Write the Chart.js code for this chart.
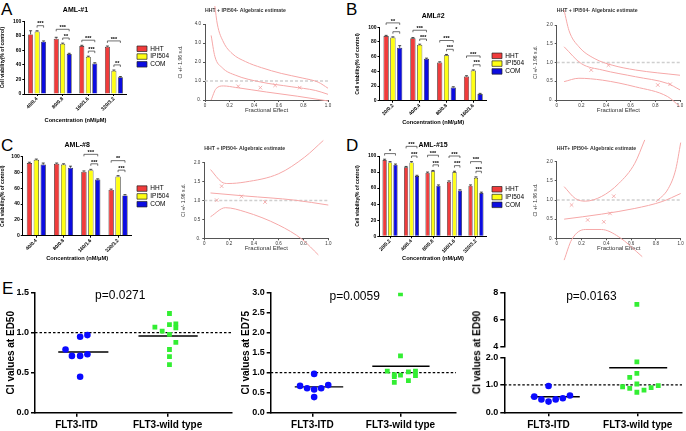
<!DOCTYPE html>
<html>
<head>
<meta charset="utf-8">
<script src="https://cdn.jsdelivr.net/npm/chart.js@4.4.1/dist/chart.umd.min.js"></script>
<style>
    html, body { margin: 0; padding: 0; background: #fff; }
    body { width: 686px; height: 431px; position: relative; overflow: hidden; font-family: 'Liberation Sans', Arial, sans-serif; }
    canvas { position: absolute; }
    .letter { position: absolute; font-size: 17px; color: #000; line-height: 1; }
    .ytitle { position: absolute; font-size: 10px; font-weight: bold; white-space: nowrap; transform: rotate(-90deg); transform-origin: center; }
</style>
</head>
<body>
<div class="letter" style="left:1px;top:1px">A</div>
<div class="letter" style="left:346px;top:1px">B</div>
<div class="letter" style="left:1px;top:137px">C</div>
<div class="letter" style="left:346px;top:137px">D</div>
<div class="letter" style="left:2px;top:280px">E</div>

<canvas id="barA" width="186" height="124" style="left:0;top:0"></canvas>
<canvas id="ciA" width="163" height="130" style="left:177px;top:0"></canvas>
<canvas id="barB" width="186" height="126" style="left:355px;top:0"></canvas>
<canvas id="ciB" width="154" height="130" style="left:532px;top:0"></canvas>
<canvas id="barC" width="186" height="124" style="left:0;top:138px"></canvas>
<canvas id="ciC" width="160" height="130" style="left:180px;top:138px"></canvas>
<canvas id="barD" width="186" height="124" style="left:355px;top:138px"></canvas>
<canvas id="ciD" width="154" height="130" style="left:532px;top:138px"></canvas>
<canvas id="ed50" width="236" height="151" style="left:0;top:280px"></canvas>
<canvas id="ed75" width="230" height="151" style="left:230px;top:280px"></canvas>
<canvas id="ed90top" width="231" height="72" style="left:455px;top:282px"></canvas>
<canvas id="ed90" width="231" height="81" style="left:455px;top:350px"></canvas>
<div class="ytitle" style="left:435px;top:347px">CI values at ED90</div>

<script>
// ---- bar charts (cell viability, % of control) ----
const concA = ['40/0.4', '80/0.8', '160/1.6', '320/3.2'];
const hhtA = [82, 76, 66, 65];
const ipiA = [86, 69, 51, 32];
const comA = [72, 55, 42, 23];
const errA = [[5, 2, 1, 1], [1, 1, 1, 1], [1, 1, 1, 1]];

const concB = ['20/0.2', '40/0.4', '80/0.8', '160/1.6'];
const hhtB = [88, 85, 52, 33];
const ipiB = [86, 76, 62, 41];
const comB = [72, 57, 18, 9];
const errB = [[1, 1, 1, 1], [1, 1, 1, 1], [3, 1, 1, 1]];

const concC = ['40/0.4', '80/0.8', '160/1.6', '320/3.2'];
const hhtC = [92, 91, 81, 58];
const ipiC = [96, 90, 83, 75];
const comC = [90, 86, 71, 51];
const errC = [[1, 1, 1, 1], [1, 1, 1, 1], [2, 2, 1, 1]];

const concD = ['20/0.2', '40/0.4', '80/0.8', '160/1.6', '320/3.2'];
const hhtD = [95, 86, 79, 68, 63];
const ipiD = [92, 92, 81, 80, 73];
const comD = [89, 75, 63, 57, 54];
const errD = [[1, 1, 1, 1, 1], [1, 1, 1, 1, 1], [1, 1, 1, 1, 1]];

// significance brackets: [category, from series, to series, stars]
const sigA = [[0, 1, 2, '***'], [1, 0, 2, '***'], [1, 1, 2, '**'], [2, 0, 2, '***'], [2, 1, 2, '***'], [3, 0, 2, '***'], [3, 1, 2, '**']];
const sigB = [[0, 0, 2, '**'], [0, 1, 2, '*'], [1, 0, 2, '***'], [1, 1, 2, '***'], [2, 0, 2, '***'], [2, 1, 2, '***'], [3, 0, 2, '***'], [3, 1, 2, '***']];
const sigC = [[2, 0, 2, '***'], [2, 1, 2, '***'], [3, 0, 2, '**'], [3, 1, 2, '***']];
const sigD = [[0, 0, 2, '*'], [1, 0, 2, '***'], [1, 1, 2, '***'], [2, 0, 2, '***'], [2, 1, 2, '***'], [3, 0, 2, '***'], [3, 1, 2, '***'], [4, 0, 2, '***'], [4, 1, 2, '***']];

// ---- CI plots (fractional effect vs CI +/- 1.96 s.d.) ----
const ciRef = [{x: 0, y: 1}, {x: 1, y: 1}];
const ciA1 = [{x: 0.08, y: 4.95}, {x: 0.1, y: 4.0}, {x: 0.15, y: 3.05}, {x: 0.22, y: 2.45}, {x: 0.33, y: 2.02}, {x: 0.46, y: 1.7}, {x: 0.62, y: 1.4}, {x: 0.79, y: 1.16}, {x: 0.92, y: 0.94}, {x: 1.0, y: 0.62}];
const ciA2 = [{x: 0.05, y: 3.4}, {x: 0.08, y: 2.3}, {x: 0.14, y: 1.7}, {x: 0.25, y: 1.3}, {x: 0.45, y: 0.95}, {x: 0.7, y: 0.7}, {x: 0.9, y: 0.5}, {x: 1.0, y: 0.3}];
const ciA3 = [{x: 0.05, y: 0}, {x: 0.09, y: 0.6}, {x: 0.15, y: 0.74}, {x: 0.25, y: 0.66}, {x: 0.5, y: 0.42}, {x: 0.75, y: 0.2}, {x: 1.0, y: -0.05}];
const ciAmarks = [{x: 0.27, y: 0.72}, {x: 0.45, y: 0.65}, {x: 0.57, y: 0.77}, {x: 0.77, y: 0.65}];

const ciB1 = [{x: 0.06, y: 2.4}, {x: 0.1, y: 1.85}, {x: 0.18, y: 1.42}, {x: 0.31, y: 1.1}, {x: 0.45, y: 0.93}, {x: 0.64, y: 0.8}, {x: 1.0, y: 0.66}];
const ciB2 = [{x: 0.06, y: 1.42}, {x: 0.2, y: 0.97}, {x: 0.37, y: 0.8}, {x: 0.64, y: 0.62}, {x: 0.9, y: 0.44}, {x: 1.0, y: 0.27}];
const ciB3 = [{x: 0.06, y: 0.49}, {x: 0.18, y: 0.58}, {x: 0.37, y: 0.53}, {x: 0.64, y: 0.35}, {x: 0.9, y: 0.09}, {x: 1.0, y: -0.18}];
const ciBmarks = [{x: 0.28, y: 0.8}, {x: 0.42, y: 0.93}, {x: 0.82, y: 0.4}, {x: 0.92, y: 0.42}];

const ciC1 = [{x: 0.05, y: 1.82}, {x: 0.14, y: 1.49}, {x: 0.19, y: 1.45}, {x: 0.33, y: 1.49}, {x: 0.6, y: 1.71}, {x: 0.81, y: 2.15}, {x: 0.96, y: 2.59}];
const ciC2 = [{x: 0.05, y: 1.2}, {x: 0.33, y: 1.12}, {x: 0.73, y: 1.01}, {x: 1.0, y: 0.88}];
const ciC3 = [{x: 0.05, y: 0.57}, {x: 0.17, y: 0.81}, {x: 0.33, y: 0.7}, {x: 0.6, y: 0.35}, {x: 0.79, y: -0.03}, {x: 0.92, y: -0.44}];
const ciCmarks = [{x: 0.1, y: 1.01}, {x: 0.14, y: 1.38}, {x: 0.3, y: 1.11}, {x: 0.49, y: 0.96}];

const ciD1 = [{x: 0.06, y: 1.35}, {x: 0.15, y: 1.04}, {x: 0.23, y: 0.97}, {x: 0.36, y: 1.09}, {x: 0.5, y: 1.43}, {x: 0.63, y: 1.96}, {x: 0.71, y: 2.57}];
const ciD2 = [{x: 0.06, y: 0.5}, {x: 0.36, y: 0.63}, {x: 0.63, y: 0.78}, {x: 0.85, y: 0.96}, {x: 1.0, y: 1.17}];
const ciD3 = [{x: 0.06, y: -0.57}, {x: 0.12, y: -0.04}, {x: 0.23, y: 0.23}, {x: 0.36, y: 0.23}, {x: 0.5, y: 0.04}, {x: 0.69, y: -0.48}];
const ciD4 = [{x: 0.8, y: 0.95}, {x: 0.9, y: 1.3}, {x: 0.96, y: 1.8}, {x: 1.0, y: 2.5}];
const ciDmarks = [{x: 0.12, y: 0.87}, {x: 0.25, y: 0.48}, {x: 0.38, y: 0.43}, {x: 0.43, y: 0.65}, {x: 0.46, y: 1.1}];

// ---- panel E (CI values per patient group) ----
const groupsE = ['FLT3-ITD', 'FLT3-wild type'];
const ed50Itd = [{x: -0.12, y: 0.79}, {x: -0.05, y: 0.71}, {x: 0.04, y: 0.71}, {x: 0.12, y: 0.73}, {x: 0.04, y: 0.95}, {x: 0.12, y: 0.97}, {x: 0.04, y: 0.45}];
const ed50Wt = [{x: 0.86, y: 1.07}, {x: 0.94, y: 1.02}, {x: 1.02, y: 1.10}, {x: 1.09, y: 1.11}, {x: 1.09, y: 1.06}, {x: 1.02, y: 1.24}, {x: 1.02, y: 0.98}, {x: 1.09, y: 0.88}, {x: 1.02, y: 0.79}, {x: 1.02, y: 0.70}, {x: 1.02, y: 0.60}];
const ed75Itd = [{x: -0.14, y: 0.67}, {x: -0.06, y: 0.61}, {x: 0.02, y: 0.58}, {x: 0.10, y: 0.61}, {x: 0.18, y: 0.69}, {x: 0.02, y: 0.97}, {x: 0.02, y: 0.39}];
const ed75Wt = [{x: 0.85, y: 1.04}, {x: 0.93, y: 0.90}, {x: 1.0, y: 0.94}, {x: 1.09, y: 1.02}, {x: 1.17, y: 1.04}, {x: 1.17, y: 0.93}, {x: 0.93, y: 0.76}, {x: 1.09, y: 0.80}, {x: 1.0, y: 2.97}, {x: 1.0, y: 1.42}, {x: 0.93, y: 0.95}];
const ed90Itd = [{x: -0.16, y: 0.57}, {x: -0.08, y: 0.47}, {x: 0, y: 0.39}, {x: 0.08, y: 0.47}, {x: 0.16, y: 0.51}, {x: 0.24, y: 0.61}, {x: 0, y: 0.96}];
const ed90Wt = [{x: 0.83, y: 0.93}, {x: 0.91, y: 0.87}, {x: 0.99, y: 1.03}, {x: 0.99, y: 0.73}, {x: 0.91, y: 1.27}, {x: 0.99, y: 1.42}, {x: 0.99, y: 1.84}, {x: 1.07, y: 0.81}, {x: 1.15, y: 0.90}, {x: 1.23, y: 0.97}, {x: 0.99, y: 7.11}];

const FONT = "'Liberation Sans', Arial, sans-serif";
Chart.defaults.font.family = FONT;
Chart.defaults.color = '#000';

// small error caps on top of each bar
const errorBars = {
    id: 'errorBars',
    afterDatasetsDraw(chart) {
        const ctx = chart.ctx, ys = chart.scales.y;
        chart.data.datasets.forEach((ds, i) => {
            chart.getDatasetMeta(i).data.forEach((bar, j) => {
                const e = ds.err ? ds.err[j] : 0;
                if (!e) return;
                const top = ys.getPixelForValue(ds.data[j] + e);
                ctx.save();
                ctx.strokeStyle = '#222';
                ctx.lineWidth = 0.8;
                ctx.beginPath();
                ctx.moveTo(bar.x, bar.y);
                ctx.lineTo(bar.x, top);
                ctx.moveTo(bar.x - 1.5, top);
                ctx.lineTo(bar.x + 1.5, top);
                ctx.stroke();
                ctx.restore();
            });
        });
    }
};

// brackets with stars between two bars of the same group
const sigBrackets = {
    id: 'sigBrackets',
    afterDatasetsDraw(chart, args, opts) {
        const list = (opts.list || []).slice().sort((a, b) => (a[2] - a[1]) - (b[2] - b[1]));
        const ctx = chart.ctx, ys = chart.scales.y;
        const placed = {};
        list.forEach(([cat, a, b, stars]) => {
            let top = 0;
            for (let k = a; k <= b; k++) {
                const ds = chart.data.datasets[k];
                top = Math.max(top, ds.data[cat] + (ds.err ? ds.err[cat] : 0));
            }
            let level = top + 7;
            if (placed[cat] !== undefined) level = Math.max(level, placed[cat] + 12);
            placed[cat] = level;
            const x1 = chart.getDatasetMeta(a).data[cat].x;
            const x2 = chart.getDatasetMeta(b).data[cat].x;
            const py = ys.getPixelForValue(level);
            ctx.save();
            ctx.strokeStyle = '#333';
            ctx.lineWidth = 0.7;
            ctx.beginPath();
            ctx.moveTo(x1, py + 2);
            ctx.lineTo(x1, py);
            ctx.lineTo(x2, py);
            ctx.lineTo(x2, py + 2);
            ctx.stroke();
            ctx.fillStyle = '#000';
            ctx.font = 'bold 5.5px ' + FONT;
            ctx.textAlign = 'center';
            ctx.textBaseline = 'bottom';
            ctx.fillText(stars, (x1 + x2) / 2, py + 1);
            ctx.restore();
        });
    }
};

// move the legend box to a fixed spot beside the plot
const legendPlace = {
    id: 'legendPlace',
    afterLayout(chart, args, opts) {
        const lg = chart.legend;
        if (!lg || opts.x === undefined) return;
        const p = lg.options.labels.padding;
        const dx = opts.x - (lg.left + p), dy = opts.y - (lg.top + p);
        lg.left += dx; lg.right += dx; lg.top += dy; lg.bottom += dy;
    }
};

// free text inside the plot (p values)
const noteText = {
    id: 'noteText',
    afterDraw(chart, args, opts) {
        if (!opts.text) return;
        const ctx = chart.ctx;
        ctx.save();
        ctx.font = '12px ' + FONT;
        ctx.fillStyle = '#000';
        ctx.textAlign = 'center';
        ctx.textBaseline = 'middle';
        ctx.fillText(opts.text, chart.scales.x.getPixelForValue(opts.x), chart.chartArea.top + opts.dy);
        ctx.restore();
    }
};

function barChart(id, title, labels, hht, ipi, com, err, sig, g) {
    new Chart(document.getElementById(id), {
        type: 'bar',
        data: {
            labels: labels,
            datasets: [
                { label: 'HHT', data: hht, backgroundColor: '#f03c3c', err: err[0] },
                { label: 'IPI504', data: ipi, backgroundColor: '#ffff14', err: err[1] },
                { label: 'COM', data: com, backgroundColor: '#0c0ce0', err: err[2] }
            ]
        },
        options: {
            responsive: false,
            animation: false,
            datasets: { bar: { borderColor: '#222', borderWidth: 0.7, categoryPercentage: 0.76, barPercentage: 0.77 } },
            layout: { padding: { top: 0, right: g.padRight, left: 0, bottom: 0 } },
            plugins: {
                title: { display: true, text: title, fullSize: false, font: { size: 7, weight: 'bold' }, padding: { top: g.titleTop, bottom: g.titleBottom } },
                legend: {
                    position: 'chartArea',
                    labels: { boxWidth: 10, boxHeight: 5.5, font: { size: 6.5 }, padding: 1.3, color: '#000' }
                },
                tooltip: { enabled: false },
                sigBrackets: { list: sig },
                legendPlace: { x: g.legendX, y: g.legendY }
            },
            scales: {
                x: {
                    grid: { drawOnChartArea: false, offset: false, color: '#000', tickLength: 2 },
                    border: { color: '#000', width: 1 },
                    ticks: { maxRotation: 45, minRotation: 45, font: { size: 5, weight: 'bold' }, padding: 0 },
                    title: { display: true, text: 'Concentration (nM/μM)', font: { size: 5.7, weight: 'bold' }, padding: 0 },
                    afterFit: s => { s.height = g.xh; }
                },
                y: {
                    min: 0, max: 100,
                    grid: { drawOnChartArea: false, color: '#000', tickLength: 2 },
                    border: { color: '#000', width: 1 },
                    ticks: { stepSize: 20, font: { size: 5, weight: 'bold' }, padding: 1 },
                    title: { display: true, text: 'Cell viability(% of control)', font: { size: 5, weight: 'bold' }, padding: 0 },
                    afterFit: s => { s.width = g.yw; }
                }
            }
        },
        plugins: [errorBars, sigBrackets, legendPlace]
    });
}

function ciChart(id, title, curves, marks, ymax, ystep, g) {
    const datasets = [{
        data: marks, pointStyle: 'crossRot', pointRadius: 2.5, borderColor: '#f2a0a0', borderWidth: 0.8, clip: false
    }];
    curves.forEach(c => datasets.push({
        data: c, showLine: true, pointRadius: 0, borderColor: '#f6a8a8', borderWidth: 1,
        cubicInterpolationMode: 'monotone', clip: false
    }));
    datasets.push({ data: ciRef, showLine: true, pointRadius: 0, borderColor: '#cfcfcf', borderWidth: 1.3, borderDash: [3, 2] });

    new Chart(document.getElementById(id), {
        type: 'scatter',
        data: { datasets: datasets },
        options: {
            responsive: false,
            animation: false,
            layout: { padding: { top: 0, right: g.padRight, left: 0, bottom: g.padBottom } },
            plugins: {
                title: { display: true, text: title, align: 'start', fullSize: false, font: { size: 5.2 }, color: '#333', padding: { top: g.titleTop, bottom: g.titleBottom } },
                legend: { display: false },
                tooltip: { enabled: false }
            },
            scales: {
                x: {
                    type: 'linear', min: 0, max: 1,
                    grid: { drawOnChartArea: false, color: '#555', tickLength: 2 },
                    border: { color: '#555' },
                    ticks: { stepSize: 0.2, font: { size: 4.5 }, color: '#333', padding: 1, callback: v => v === 0 ? '0' : v.toFixed(1) },
                    title: { display: true, text: 'Fractional Effect', font: { size: 6 }, color: '#333', padding: 0 },
                    afterFit: s => { s.height = 14; }
                },
                y: {
                    min: 0, max: ymax,
                    grid: { drawOnChartArea: false, color: '#555', tickLength: 2 },
                    border: { color: '#555' },
                    ticks: { stepSize: ystep, font: { size: 4.5 }, color: '#333', padding: 2, callback: v => v === 0 ? '0.' : v.toFixed(1) },
                    title: { display: true, text: 'CI +/- 1.96 s.d.', font: { size: 5 }, color: '#333', padding: 1 },
                    afterFit: s => { s.width = g.yw; }
                }
            }
        }
    });
}

function mean(pts) {
    return pts.reduce((s, p) => s + p.y, 0) / pts.length;
}

// one scatter panel of E; ymin/ymax limit which points land on this piece of a broken axis
function edChart(id, itd, wt, g) {
    const inRange = p => p.y >= g.ymin && p.y <= g.ymax;
    const datasets = [
        { data: itd.filter(inRange), pointStyle: 'circle', pointRadius: 3.3, backgroundColor: '#0a0aff', borderWidth: 0 },
        { data: wt.filter(inRange), pointStyle: 'rect', pointRadius: 3.4, backgroundColor: '#33ee33', borderWidth: 0 }
    ];
    const mItd = mean(itd), mWt = mean(wt);
    const lineStyle = { showLine: true, pointRadius: 0, borderColor: '#000', borderWidth: 1.4 };
    if (inRange({y: mItd})) datasets.push(Object.assign({ data: [{x: -0.2, y: mItd}, {x: 0.35, y: mItd}] }, lineStyle));
    if (inRange({y: mWt})) datasets.push(Object.assign({ data: [{x: 0.68, y: mWt}, {x: 1.33, y: mWt}] }, lineStyle));
    if (inRange({y: 1})) datasets.push({ data: [{x: g.xmin, y: 1}, {x: g.xmax, y: 1}], showLine: true, pointRadius: 0, borderColor: '#000', borderWidth: 1.2, borderDash: [2.5, 2] });

    new Chart(document.getElementById(id), {
        type: 'scatter',
        data: { datasets: datasets },
        options: {
            responsive: false,
            animation: false,
            layout: { padding: { top: g.padTop, right: g.padRight, left: 0, bottom: g.padBottom || 0 } },
            plugins: {
                legend: { display: false },
                tooltip: { enabled: false },
                noteText: { text: g.note, x: 0.48, dy: g.noteDy }
            },
            scales: {
                x: {
                    type: 'linear', min: g.xmin, max: g.xmax, display: g.showX,
                    afterBuildTicks: s => { s.ticks = [{value: 0}, {value: 1}]; },
                    grid: { drawOnChartArea: false, color: '#000', tickLength: 4, lineWidth: 1.5 },
                    border: { color: '#000', width: 1.5 },
                    ticks: { font: { size: 10, weight: 'bold' }, padding: 3, callback: v => groupsE[v] },
                    afterFit: s => { s.height = g.xh; }
                },
                y: {
                    min: g.ymin, max: g.ymax,
                    grid: { drawOnChartArea: false, color: '#000', tickLength: 4, lineWidth: 1.5 },
                    border: { color: '#000', width: 1.5 },
                    ticks: { stepSize: g.ystep, font: { size: 9, weight: 'bold' }, padding: 2, callback: v => g.ystep < 1 ? v.toFixed(1) : String(v) },
                    title: { display: !!g.ytitle, text: g.ytitle, font: { size: 10, weight: 'bold' }, padding: g.ytitlePad || 2 },
                    afterFit: s => { s.width = g.yw; }
                }
            }
        },
        plugins: [noteText]
    });
}

barChart('barA', 'AML-#1', concA, hhtA, ipiA, comA, errA, sigA,
    { yw: 24.3, xh: 30, padRight: 59.3, titleTop: 5.8, titleBottom: 7.1, legendX: 137, legendY: 21.5 });
barChart('barB', 'AML#2', concB, hhtB, ipiB, comB, errB, sigB,
    { yw: 24.5, xh: 25.3, padRight: 54.3, titleTop: 11.5, titleBottom: 7.4, legendX: 137, legendY: 28.2 });
barChart('barC', 'AML-#8', concC, hhtC, ipiC, comC, errC, sigC,
    { yw: 22.7, xh: 26.3, padRight: 54.3, titleTop: 2.8, titleBottom: 7.5, legendX: 137, legendY: 20.2 });
barChart('barD', 'AML-#15', concD, hhtD, ipiD, comD, errD, sigD,
    { yw: 24.3, xh: 25.7, padRight: 54.3, titleTop: 2.8, titleBottom: 6.8, legendX: 137, legendY: 20.2 });

ciChart('ciA', 'HHT + IPI504- Algebraic estimate', [ciA1, ciA2, ciA3], ciAmarks, 4, 1,
    { yw: 28, padRight: 12, padBottom: 16, titleTop: 7.9, titleBottom: 9.9 });
ciChart('ciB', 'HHT + IPI504- Algebraic estimate', [ciB1, ciB2, ciB3], ciBmarks, 2, 0.5,
    { yw: 24.7, padRight: 6, padBottom: 16, titleTop: 7.6, titleBottom: 11.2 });
ciChart('ciC', 'HHT + IPI504- Algebraic estimate', [ciC1, ciC2, ciC3], ciCmarks, 2, 0.5,
    { yw: 24.3, padRight: 11.7, padBottom: 15.7, titleTop: 7.2, titleBottom: 11.3 });
ciChart('ciD', 'HHT+ IPI504- Algebraic estimate', [ciD1, ciD2, ciD3, ciD4], ciDmarks, 2, 0.5,
    { yw: 24.7, padRight: 5.3, padBottom: 15.7, titleTop: 7.2, titleBottom: 10.3 });

edChart('ed50', ed50Itd, ed50Wt,
    { xmin: -0.455, xmax: 1.706, ymin: 0, ymax: 1.5, ystep: 0.5, yw: 35, xh: 18.3, padTop: 12.7, padRight: 3,
      showX: true, ytitle: 'CI values at ED50', ytitlePad: 5.5, note: 'p=0.0271', noteDy: 3 });
edChart('ed75', ed75Itd, ed75Wt,
    { xmin: -0.473, xmax: 1.63, ymin: 0, ymax: 3, ystep: 0.5, yw: 40.7, xh: 18.3, padTop: 12.7, padRight: 0,
      showX: true, ytitle: 'CI values at ED75', ytitlePad: 10.5, note: 'p=0.0059', noteDy: 4 });
edChart('ed90top', ed90Itd, ed90Wt,
    { xmin: -0.496, xmax: 1.496, ymin: 4, ymax: 8, ystep: 2, yw: 49.3, xh: 0, padTop: 10.3, padRight: 1, padBottom: 6.3,
      showX: false, note: 'p=0.0163', noteDy: 4.4 });
edChart('ed90', ed90Itd, ed90Wt,
    { xmin: -0.496, xmax: 1.496, ymin: 0, ymax: 2, ystep: 0.5, yw: 49.3, xh: 18.7, padTop: 7.3, padRight: 1,
      showX: true });
</script>
</body>
</html>
